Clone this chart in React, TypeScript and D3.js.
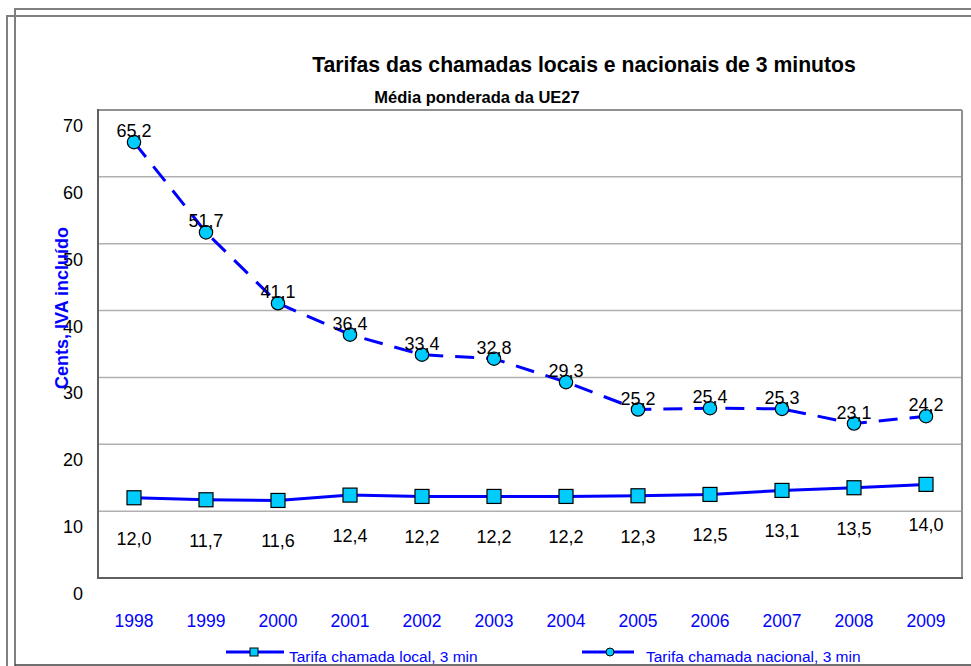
import React from "react";
import * as d3 from "d3";

const years = ["1998", "1999", "2000", "2001", "2002", "2003", "2004", "2005", "2006", "2007", "2008", "2009"];
const localValues = [12.0, 11.7, 11.6, 12.4, 12.2, 12.2, 12.2, 12.3, 12.5, 13.1, 13.5, 14.0];
const nationalValues = [65.2, 51.7, 41.1, 36.4, 33.4, 32.8, 29.3, 25.2, 25.4, 25.3, 23.1, 24.2];
const yTicks = [0, 10, 20, 30, 40, 50, 60, 70];
const titleText = "Tarifas das chamadas locais e nacionais de 3 minutos";
const subtitleText = "Média ponderada da UE27";
const yAxisTitle = "Cents, IVA incluído";
const seriesNames = ["Tarifa chamada local, 3 min", "Tarifa chamada nacional, 3 min"];

const W = 971;
const H = 666;
const plot = { left: 98, right: 962, top: 110, bottom: 578 };
const FONT = "'Liberation Sans', Arial, sans-serif";
const BLUE = "#0000FF";
const CYAN = "#00CCFF";

const fmt = (v: number) => v.toFixed(1).replace(".", ",");

export default function App() {
  const x = d3.scaleBand<string>().domain(years).range([plot.left, plot.right]);
  const y = d3.scaleLinear().domain([0, 70]).range([plot.bottom, plot.top]);
  const cx = (i: number) => (x(years[i]) as number) + x.bandwidth() / 2;

  const lineGen = d3
    .line<number>()
    .x((_, i) => cx(i))
    .y((d) => y(d));

  return (
    <svg
      width={W}
      height={H}
      style={{ position: "fixed", left: 0, top: 0, background: "#fff" }}
      fontFamily={FONT}
    >
      <rect x={0} y={0} width={W} height={H} fill="#fff" />
      {/* outer frames */}
      <path d={`M15,${H + 5} L15,9 L${W + 5},9`} fill="none" stroke="#808080" strokeWidth={2} />
      <path d={`M7,${H + 5} L7,16 L${W + 5},16`} fill="none" stroke="#808080" strokeWidth={2} />

      {/* title */}
      <text x={584} y={64} textAnchor="middle" dominantBaseline="central" fontWeight="bold" fontSize={21.2}>
        {titleText}
      </text>
      <text x={477} y={97} textAnchor="middle" dominantBaseline="central" fontWeight="bold" fontSize={16.5}>
        {subtitleText}
      </text>

      {/* gridlines */}
      {yTicks
        .filter((t) => t > 0 && t < 70)
        .map((t) => (
          <line key={t} x1={plot.left} x2={plot.right} y1={y(t)} y2={y(t)} stroke="#b0b0b0" strokeWidth={1.5} />
        ))}
      {/* plot border */}
      <line x1={plot.left} x2={plot.right} y1={plot.top} y2={plot.top} stroke="#909090" strokeWidth={2} />
      <line x1={plot.right} x2={plot.right} y1={plot.top} y2={plot.bottom} stroke="#909090" strokeWidth={2} />
      <line x1={plot.left} x2={plot.left} y1={plot.top - 1} y2={plot.bottom + 1} stroke="#606060" strokeWidth={2} />
      <line x1={plot.left - 1} x2={plot.right + 1} y1={plot.bottom} y2={plot.bottom} stroke="#606060" strokeWidth={2} />

      {/* y tick labels (offset below gridlines as in reference) */}
      {yTicks.map((t) => (
        <text key={t} x={83} y={y(t) + 16} textAnchor="end" dominantBaseline="central" fontSize={18} fill="#000">
          {t}
        </text>
      ))}

      {/* x labels */}
      {years.map((yr, i) => (
        <text key={yr} x={cx(i)} y={621} textAnchor="middle" dominantBaseline="central" fontSize={17.5} fill={BLUE}>
          {yr}
        </text>
      ))}

      {/* y axis title */}
      <text
        transform={`translate(62,308) rotate(-90)`}
        textAnchor="middle"
        dominantBaseline="central"
        fontWeight="bold"
        fontSize={18}
        fill={BLUE}
      >
        {yAxisTitle}
      </text>

      {/* local series */}
      <path d={lineGen(localValues) || ""} fill="none" stroke={BLUE} strokeWidth={3} />
      {localValues.map((v, i) => (
        <rect key={i} x={cx(i) - 7} y={y(v) - 7} width={14} height={14} fill={CYAN} stroke="#000" strokeWidth={1.2} />
      ))}
      {localValues.map((v, i) => (
        <text key={i} x={cx(i)} y={y(v) + 41} textAnchor="middle" dominantBaseline="central" fontSize={18}>
          {fmt(v)}
        </text>
      ))}

      {/* national series */}
      <path d={lineGen(nationalValues) || ""} fill="none" stroke={BLUE} strokeWidth={3} strokeDasharray="19,12" />
      {nationalValues.map((v, i) => (
        <circle key={i} cx={cx(i)} cy={y(v)} r={6.7} fill={CYAN} stroke="#000" strokeWidth={1.2} />
      ))}
      {nationalValues.map((v, i) => (
        <text key={i} x={cx(i)} y={y(v) - 11} textAnchor="middle" dominantBaseline="central" fontSize={18}>
          {fmt(v)}
        </text>
      ))}

      {/* legend */}
      <line x1={226} x2={284} y1={652} y2={652} stroke={BLUE} strokeWidth={3} />
      <rect x={250} y={648} width={8} height={8} fill={CYAN} stroke="#000" strokeWidth={1} />
      <text x={289} y={662} fontSize={15.5} fill={BLUE}>
        {seriesNames[0]}
      </text>
      <line x1={582} x2={634} y1={652} y2={652} stroke={BLUE} strokeWidth={3} />
      <circle cx={610} cy={652} r={4} fill={CYAN} stroke="#000" strokeWidth={1} />
      <text x={646} y={662} fontSize={15.5} fill={BLUE}>
        {seriesNames[1]}
      </text>
      <line x1={15} y1={665} x2={W + 5} y2={665} stroke="#404040" strokeWidth={1.5} />
    </svg>
  );
}
